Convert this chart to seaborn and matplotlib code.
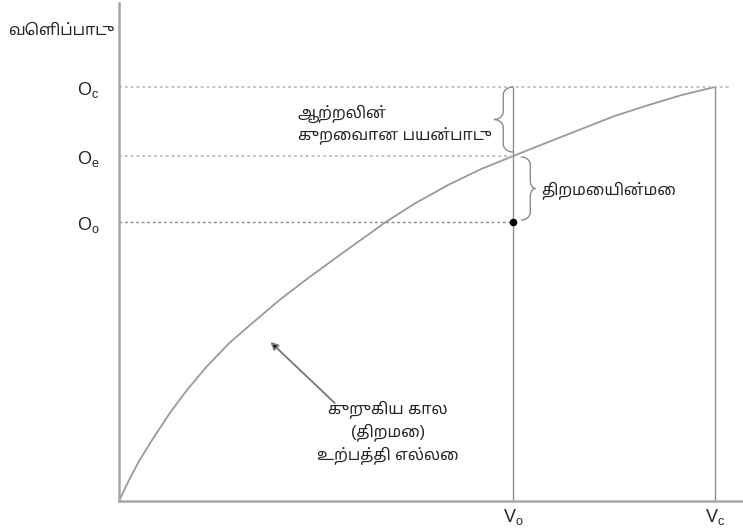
import numpy as np
import pandas as pd
import matplotlib
matplotlib.use('Agg')
import matplotlib.pyplot as plt
import seaborn as sns

# 단기 생산 가능 곡선
curve_x = [0, 10, 20, 33, 50, 67, 87, 110, 133, 160, 190, 227, 266, 294, 328, 361, 393,
           428, 461, 494, 528, 561, 594]
curve_y = [0, 21, 40, 61, 87, 110, 134, 158, 178, 201, 224, 251, 279, 297, 316, 332, 345,
           359, 372, 385, 396, 406, 414]

v_levels = [393, 594]          # Vo, Vc
o_levels = [279, 345, 414]     # Oo, Oe, Oc
v_labels = [r'$\mathrm{V}_{\mathrm{o}}$', r'$\mathrm{V}_{\mathrm{c}}$']
o_labels = [r'$\mathrm{O}_{\mathrm{o}}$', r'$\mathrm{O}_{\mathrm{e}}$', r'$\mathrm{O}_{\mathrm{c}}$']

y_title = 'வெளிப்பாடு'
waste_label = 'ஆற்றலின்\nகுறைவான பயன்பாடு'
ineff_label = 'திறமையின்மை'
curve_label = 'குறுகிய கால\n(திறமை)\nஉற்பத்தி எல்லை'

sns.set_style('white')
plt.rcParams['font.family'] = ['Liberation Sans', 'Noto Sans Tamil']
plt.rcParams['mathtext.fontset'] = 'custom'
plt.rcParams['mathtext.rm'] = 'Liberation Sans'

fig = plt.figure(figsize=(7.43, 5.29), dpi=100)
ax = fig.add_axes([119 / 743, 28 / 529, 624 / 743, 498 / 529])

df = pd.DataFrame({'x': curve_x, 'y': curve_y})
sns.lineplot(data=df, x='x', y='y', ax=ax, color='#9a9a9a', linewidth=1.3)

vo, vc = v_levels
oo, oe, oc = o_levels

# 점선들
ax.hlines(oc, 0, vc + 15, colors='#c4c4c4', linestyles=(0, (1.5, 1.5)), linewidth=1.4)
ax.hlines(oe, 0, vo, colors='#c4c4c4', linestyles=(0, (1.5, 1.5)), linewidth=1.4)
ax.hlines(oo, 0, vo, colors='#8a8a8a', linestyles=(0, (2, 2)), linewidth=1.0)

# 수직선
ax.vlines(v_levels, 0, oc, colors='#8f8f8f', linewidth=1.0)
ax.plot([vo], [oo], 'o', color='black', markersize=4.5)


def brace(ax, x_end, x_body, x_tip, y0, y1, r=8):
    # 중괄호: 위쪽 절반을 만들고 아래로 뒤집음
    ym = (y0 + y1) / 2
    t = np.linspace(0, np.pi / 2, 15)
    dx1 = x_body - x_end
    dx2 = x_tip - x_body
    top_x = list(x_end + dx1 * np.sin(t)) + list(x_body + dx2 * (1 - np.cos(t)))
    top_y = list(y1 - r + r * np.cos(t)) + list(ym + r * (1 - np.sin(t)))
    xs = top_x + top_x[::-1]
    ys = top_y + [2 * ym - y for y in top_y[::-1]]
    ax.plot(xs, ys, color='#8a8a8a', linewidth=1.0)


brace(ax, vo, vo - 10, vo - 19, oe + 4, oc)
brace(ax, vo + 8, vo + 17, vo + 22, oo + 2, oe - 1)

ax.annotate('', xy=(151, 159), xytext=(215, 98),
            arrowprops=dict(arrowstyle='-|>', fc='black', ec='#777777', lw=1.3,
                            mutation_scale=11, shrinkA=0, shrinkB=0))

ax.text(178, 377, waste_label, fontsize=11.5, ha='left', va='center', linespacing=1.25)
ax.text(421, 311, ineff_label, fontsize=11.5, ha='left', va='center')
ax.text(268, 69, curve_label, fontsize=11.5, ha='center', va='center', linespacing=1.35)
ax.text(-111, 471, y_title, fontsize=11.5, ha='left', va='center', clip_on=False)

ax.set_xlim(0, 622)
ax.set_ylim(0, 498)
ax.set_xticks(v_levels)
ax.set_xticklabels(v_labels, fontsize=13)
ax.set_yticks(o_levels)
ax.set_yticklabels(o_labels, fontsize=13)
ax.tick_params(axis='both', length=0)
ax.tick_params(axis='y', pad=14)
ax.tick_params(axis='x', pad=4)
ax.set_xlabel('')
ax.set_ylabel('')
for s in ['top', 'right']:
    ax.spines[s].set_visible(False)
for s in ['left', 'bottom']:
    ax.spines[s].set_color('#a8a8a8')
    ax.spines[s].set_linewidth(1.8)

fig.savefig('out.png', dpi=100)
